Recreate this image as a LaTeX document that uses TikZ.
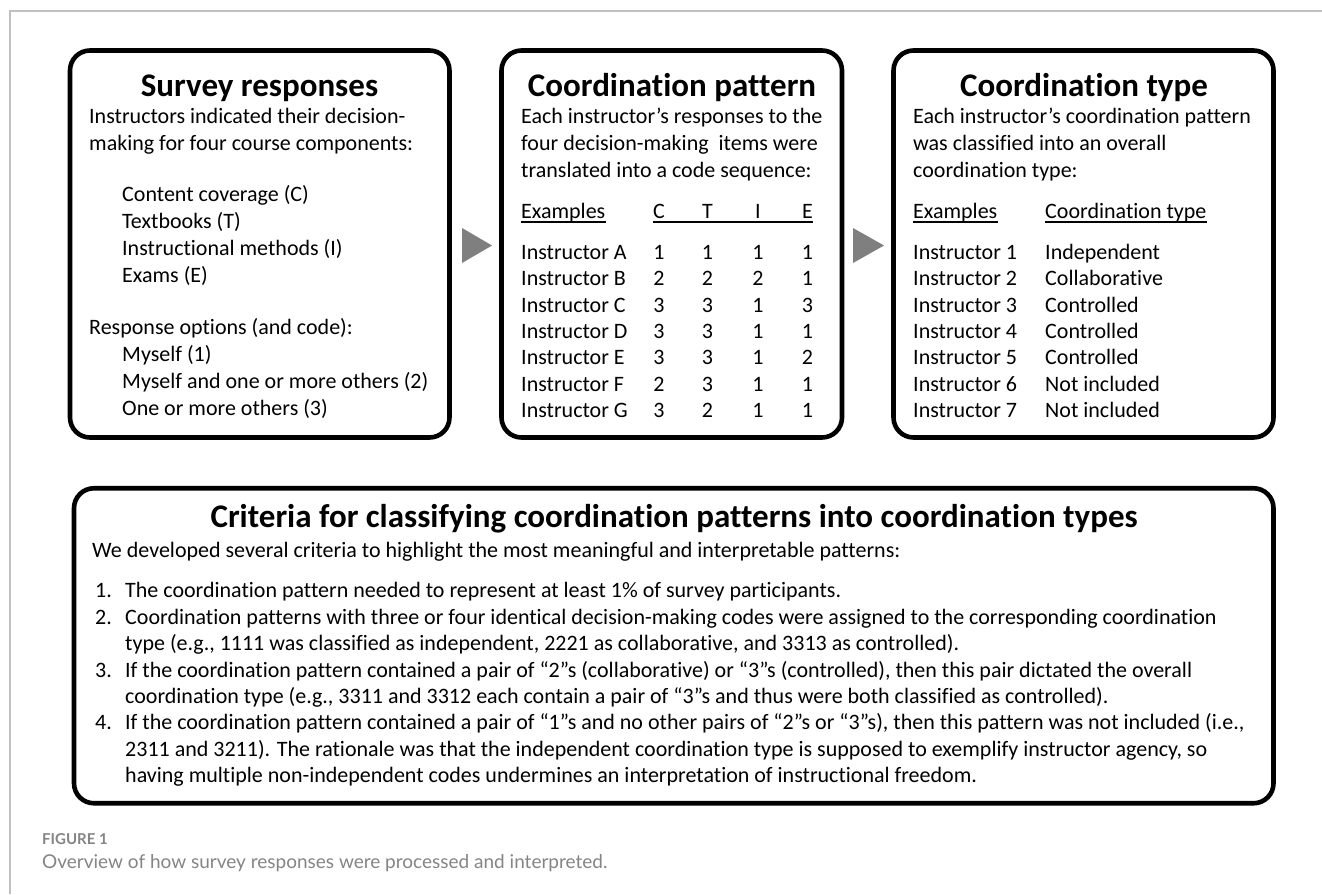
\documentclass[tikz,border=0pt]{standalone}
\usepackage{fontspec}
\setmainfont{Carlito}[Ligatures={NoCommon}]
\newfontfamily\capfont{Lato}
\usetikzlibrary{calc}
\definecolor{framegray}{HTML}{C0C0C0}
\definecolor{arrowgray}{HTML}{7F7F7F}
\definecolor{capgray}{HTML}{858585}
\newcommand\bodyline[4]{\node[body] (#1) at (#2,#3) {#4};}
\newcommand\colval[4]{\node[colc] (#1) at (#2,#3) {#4};}
\begin{document}
\begin{tikzpicture}[x=1bp,y=-1bp,
  box/.style={draw=black, line width=4.6bp, rounded corners=20bp, inner sep=0pt},
  body/.style={anchor=base west, inner sep=0pt, font=\fontsize{22bp}{26bp}\selectfont},
  colc/.style={anchor=base, inner sep=0pt, font=\fontsize{22bp}{26bp}\selectfont},
  ttl/.style={anchor=base, inner sep=0pt, font=\bfseries\fontsize{33bp}{37bp}\selectfont},
  uline/.style={line width=1.3bp},
  tri/.style={fill=arrowgray}]
\useasboundingbox (0,0) rectangle (1322,894);
\fill[white] (0,0) rectangle (1322,894);
\draw[framegray, line width=1.3bp] (10,894) -- (10,11) -- (1322,11);

% boxes
\node[box, minimum width=379.5bp, minimum height=387bp] (b1) at (259.75,244) {};
\node[box, minimum width=340.5bp, minimum height=387bp] (b2) at (671.75,244) {};
\node[box, minimum width=380bp, minimum height=387bp] (b3) at (1083.5,244) {};
\node[box, minimum width=1199.5bp, minimum height=315bp] (b4) at (673.75,645.75) {};

% arrows
\fill[tri] (462,228) -- (492,245.5) -- (462,263) -- cycle;
\fill[tri] (853,228) -- (884,245.5) -- (853,263) -- cycle;

% box 1
\node[ttl] (t1) at (259.5,96) {Survey responses};
\bodyline{a1}{89}{123}{Instructors indicated their decision-}
\bodyline{a2}{89}{150}{making for four course components:}
\bodyline{a3}{122}{201}{Content coverage (C)}
\bodyline{a4}{122}{228}{Textbooks (T)}
\bodyline{a5}{122}{255}{Instructional methods (I)}
\bodyline{a6}{122}{282}{Exams (E)}
\bodyline{a7}{89}{334}{Response options (and code):}
\bodyline{a8}{122}{361}{Myself (1)}
\bodyline{a9}{122}{388}{Myself and one or more others (2)}
\bodyline{a10}{122}{415}{One or more others (3)}

% box 2
\node[ttl] (t2) at (672,96) {Coordination pattern};
\bodyline{p1}{521}{123}{Each instructor’s responses to the}
\bodyline{p2}{521}{150}{four decision-making\ \ items were}
\bodyline{p3}{521}{177}{translated into a code sequence:}
\bodyline{pex}{521}{218.5}{Examples}
\colval{hc}{659}{218.5}{C}
\colval{ht}{707.5}{218.5}{T}
\colval{hi}{758}{218.5}{I}
\colval{he}{807.5}{218.5}{E}
\draw[uline] ($(pex.base west)+(0,3.5)$) -- ($(pex.base east)+(0,3.5)$);
\draw[uline] ($(hc.base west)+(0,3.5)$) -- ($(he.base east)+(0,3.5)$);
\foreach \nm/\yy/\c/\t/\i/\e in {A/259/1/1/1/1, B/285/2/2/2/1, C/312/3/3/1/3, D/338/3/3/1/1, E/364/3/3/1/2, F/391/2/3/1/1, G/417/3/2/1/1}{
  \bodyline{r\nm}{521}{\yy}{Instructor \nm}
  \colval{rc\nm}{659}{\yy}{\c}
  \colval{rt\nm}{707.5}{\yy}{\t}
  \colval{ri\nm}{758}{\yy}{\i}
  \colval{re\nm}{807.5}{\yy}{\e}
}

% box 3
\node[ttl] (t3) at (1084,96) {Coordination type};
\bodyline{c1}{913}{123}{Each instructor’s coordination pattern}
\bodyline{c2}{913}{150}{was classified into an overall}
\bodyline{c3}{913}{177}{coordination type:}
\bodyline{cex}{913}{218.5}{Examples}
\bodyline{cty}{1045}{218.5}{Coordination type}
\draw[uline] ($(cex.base west)+(0,3.5)$) -- ($(cex.base east)+(0,3.5)$);
\draw[uline] ($(cty.base west)+(0,3.5)$) -- ($(cty.base east)+(0,3.5)$);
\foreach \k/\yy/\ty in {1/259/Independent, 2/285/Collaborative, 3/312/Controlled, 4/338/Controlled, 5/364/Controlled, 6/391/Not included, 7/417/Not included}{
  \bodyline{q\k}{913}{\yy}{Instructor \k}
  \bodyline{qt\k}{1045}{\yy}{\ty}
}

% box 4
\node[ttl] (t4) at (674,527) {Criteria for classifying coordination patterns into coordination types};
\bodyline{w0}{92}{557}{We developed several criteria to highlight the most meaningful and interpretable patterns:}
\bodyline{n1}{95}{597}{1.}
\bodyline{w1}{125}{597}{The coordination pattern needed to represent at least 1\% of survey participants.}
\bodyline{n2}{95}{624}{2.}
\bodyline{w2}{125}{624}{Coordination patterns with three or four identical decision-making codes were assigned to the corresponding coordination}
\bodyline{w2b}{125}{650}{type (e.g., 1111 was classified as independent, 2221 as collaborative, and 3313 as controlled).}
\bodyline{n3}{95}{677}{3.}
\bodyline{w3}{125}{677}{If the coordination pattern contained a pair of “2”s (collaborative) or “3”s (controlled), then this pair dictated the overall}
\bodyline{w3b}{125}{703}{coordination type (e.g., 3311 and 3312 each contain a pair of “3”s and thus were both classified as controlled).}
\bodyline{n4}{95}{729}{4.}
\bodyline{w4}{125}{729}{If the coordination pattern contained a pair of “1”s and no other pairs of “2”s or “3”s), then this pattern was not included (i.e.,}
\bodyline{w4b}{125}{756}{2311 and 3211). The rationale was that the independent coordination type is supposed to exemplify instructor agency, so}
\bodyline{w4c}{125}{782}{having multiple non-independent codes undermines an interpretation of instructional freedom.}

% caption
\node[anchor=base west, inner sep=0pt, text=capgray, font=\capfont\bfseries\fontsize{15bp}{18bp}\selectfont] (fig) at (42,844) {FIGURE 1};
\node[anchor=base west, inner sep=0pt, text=capgray, font=\capfont\fontsize{19bp}{22bp}\selectfont] (cap) at (42,868.5) {Overview of how survey responses were processed and interpreted.};
\end{tikzpicture}
\end{document}
